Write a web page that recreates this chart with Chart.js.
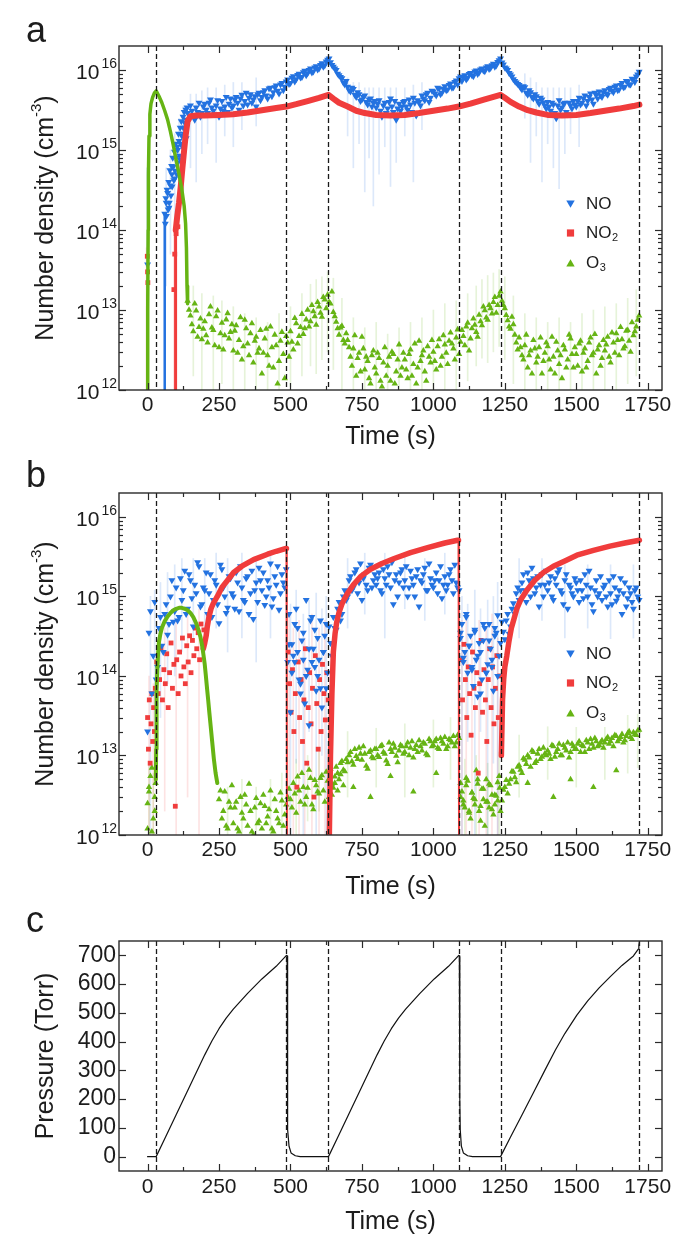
<!DOCTYPE html>
<html>
<head>
<meta charset="utf-8">
<title>NO / NO2 / O3 number density and pressure vs time</title>
<script src="https://cdn.jsdelivr.net/npm/chart.js@4.4.1/dist/chart.umd.min.js"></script>
<style>
  html, body { margin: 0; padding: 0; background: #fff; }
  #figure { position: relative; width: 688px; height: 1249px; overflow: hidden; }
  #figure canvas { position: absolute; left: 0; }
</style>
</head>
<body>
<div id="figure">
  <canvas id="chart-a" width="688" height="450" style="top:0"></canvas>
  <canvas id="chart-b" width="688" height="450" style="top:450px"></canvas>
  <canvas id="chart-c" width="688" height="349" style="top:900px"></canvas>
</div>
<script>
// ============================================
// Number density (NO, NO2, O3) and chamber pressure vs time
// ============================================

const FONT = '"Liberation Sans", Arial, Helvetica, sans-serif';
const INK = '#1c1c1c';
const BLUE = '#2372e0';
const RED = '#f03c3c';
const GREEN = '#66b414';

// ---- axes ----
const xTickVals = [0, 250, 500, 750, 1000, 1250, 1500, 1750];
const xMinorVals = [125, 375, 625, 875, 1125, 1375, 1625];
const logTickVals = [1e12, 1e13, 1e14, 1e15, 1e16];
const pressureTickVals = [0, 100, 200, 300, 400, 500, 600, 700];
const stepLines = [30, 486, 633, 1089, 1235, 1721];
const legendNames = ['NO', 'NO2', 'O3'];

// 10 s grids shared by the scattered series
const timeGrid = [
  0, 10, 20, 30, 40, 50, 60, 70, 80, 90,
  100, 110, 120, 130, 140, 150, 160, 170, 180, 190,
  200, 210, 220, 230, 240, 250, 260, 270, 280, 290,
  300, 310, 320, 330, 340, 350, 360, 370, 380, 390,
  400, 410, 420, 430, 440, 450, 460, 470, 480, 490,
  500, 510, 520, 530, 540, 550, 560, 570, 580, 590,
  600, 610, 620, 630, 640, 650, 660, 670, 680, 690,
  700, 710, 720, 730, 740, 750, 760, 770, 780, 790,
  800, 810, 820, 830, 840, 850, 860, 870, 880, 890,
  900, 910, 920, 930, 940, 950, 960, 970, 980, 990,
  1000, 1010, 1020, 1030, 1040, 1050, 1060, 1070, 1080, 1090,
  1100, 1110, 1120, 1130, 1140, 1150, 1160, 1170, 1180, 1190,
  1200, 1210, 1220, 1230, 1240, 1250, 1260, 1270, 1280, 1290,
  1300, 1310, 1320, 1330, 1340, 1350, 1360, 1370, 1380, 1390,
  1400, 1410, 1420, 1430, 1440, 1450, 1460, 1470, 1480, 1490,
  1500, 1510, 1520, 1530, 1540, 1550, 1560, 1570, 1580, 1590,
  1600, 1610, 1620, 1630, 1640, 1650, 1660, 1670, 1680, 1690,
  1700, 1710, 1720
];
const midGrid = [
  5, 15, 25, 35, 45, 55, 65, 75, 85, 95,
  105, 115, 125, 135, 145, 155, 165, 175, 185, 195,
  205, 215, 225, 235, 245, 255, 265, 275, 285, 295,
  305, 315, 325, 335, 345, 355, 365, 375, 385, 395,
  405, 415, 425, 435, 445, 455, 465, 475, 485, 495,
  505, 515, 525, 535, 545, 555, 565, 575, 585, 595,
  605, 615, 625, 635, 645, 655, 665, 675, 685, 695,
  705, 715, 725, 735, 745, 755, 765, 775, 785, 795,
  805, 815, 825, 835, 845, 855, 865, 875, 885, 895,
  905, 915, 925, 935, 945, 955, 965, 975, 985, 995,
  1005, 1015, 1025, 1035, 1045, 1055, 1065, 1075, 1085, 1095,
  1105, 1115, 1125, 1135, 1145, 1155, 1165, 1175, 1185, 1195,
  1205, 1215, 1225, 1235, 1245, 1255, 1265, 1275, 1285, 1295,
  1305, 1315, 1325, 1335, 1345, 1355, 1365, 1375, 1385, 1395,
  1405, 1415, 1425, 1435, 1445, 1455, 1465, 1475, 1485, 1495,
  1505, 1515, 1525, 1535, 1545, 1555, 1565, 1575, 1585, 1595,
  1605, 1615, 1625, 1635, 1645, 1655, 1665, 1675, 1685, 1695,
  1705, 1715
];

// ---- panel a ----
const noA = [
  3.7e13, null, null, null, null, null, 1.6e14, 2.9e14, 3.6e14, 6.2e14,
  8.0e14, 1.3e15, 1.5e15, 2.2e15, 2.9e15, 3.6e15, 2.7e15, 3.4e15, 3.9e15, 2.9e15,
  3.8e15, 2.9e15, 4.3e15, 3.1e15, 3.6e15, 2.6e15, 4.1e15, 3.5e15, 3.0e15, 4.4e15,
  3.6e15, 4.6e15, 3.2e15, 4.9e15, 4.1e15, 3.7e15, 5.0e15, 4.3e15, 3.5e15, 5.2e15,
  4.6e15, 5.6e15, 4.4e15, 6.0e15, 5.3e15, 6.4e15, 5.1e15, 6.9e15, 6.2e15, 7.6e15,
  6.9e15, 8.4e15, 7.7e15, 9.0e15, 8.2e15, 9.8e15, 9.1e15, 1.05e16, 9.6e15, 1.12e16,
  1.05e16, 1.22e16, 1.15e16, 1.35e16, 1.25e16, 1.1e16, 1.0e16, 8.6e15, 7.9e15, 6.6e15,
  6.2e15, 5.4e15, 5.8e15, 4.6e15, 5.0e15, 4.3e15, 4.8e15, 3.7e15, 4.4e15, 3.9e15,
  3.4e15, 4.2e15, 2.6e15, 3.9e15, 3.3e15, 4.4e15, 3.0e15, 2.4e15, 3.8e15, 3.5e15,
  4.1e15, 3.2e15, 3.7e15, 4.5e15, 2.7e15, 4.0e15, 4.8e15, 4.2e15, 5.2e15, 4.5e15,
  5.4e15, 4.8e15, 5.9e15, 5.2e15, 6.3e15, 5.7e15, 6.8e15, 6.1e15, 7.4e15, 7.9e15,
  7.3e15, 8.6e15, 8.0e15, 9.2e15, 8.4e15, 9.9e15, 9.3e15, 1.05e16, 9.7e15, 1.12e16,
  1.06e16, 1.2e16, 1.14e16, 1.33e16, 1.24e16, 1.08e16, 1.0e16, 8.8e15, 7.7e15, 7.0e15,
  6.5e15, 5.7e15, 6.1e15, 4.9e15, 5.3e15, 4.4e15, 4.7e15, 3.8e15, 4.3e15, 3.6e15,
  4.0e15, 3.1e15, 3.7e15, 2.5e15, 4.2e15, 3.4e15, 3.9e15, 2.8e15, 3.6e15, 4.1e15,
  3.5e15, 4.5e15, 3.9e15, 4.8e15, 4.1e15, 5.1e15, 3.8e15, 4.9e15, 5.4e15, 4.6e15,
  5.6e15, 4.9e15, 6.0e15, 5.3e15, 6.4e15, 5.7e15, 6.9e15, 6.2e15, 7.2e15, 6.6e15,
  7.6e15, 8.3e15, 9.5e15
];
const noAMid = [
  null, null, null, null, null, null, 2.2e14, 1.9e14, 5.0e14, 4.4e14,
  1.0e15, 7.5e14, 1.9e15, 1.4e15, 2.4e15, 3.1e15, 2.4e15, 3.0e15, 2.6e15, 3.5e15,
  3.2e15, 3.9e15, 3.4e15, 2.8e15, 4.2e15, 3.3e15, 3.1e15, 4.6e15, 3.8e15, 3.4e15,
  4.3e15, 3.9e15, 4.4e15, 3.6e15, 5.2e15, 4.5e15, 3.9e15, 4.7e15, 5.0e15, 4.2e15,
  5.3e15, 4.8e15, 5.9e15, 4.7e15, 6.1e15, 5.5e15, 6.6e15, 5.6e15, 7.2e15, 6.7e15,
  8.0e15, 7.2e15, 8.7e15, 8.1e15, 9.4e15, 8.6e15, 1.0e16, 9.3e15, 1.08e16, 1.02e16,
  1.16e16, 1.1e16, 1.28e16, 1.4e16, 1.16e16, 1.05e16, 9.0e15, 8.2e15, 7.0e15, 7.3e15,
  5.6e15, 6.0e15, 4.9e15, 5.3e15, 4.1e15, 4.6e15, 4.0e15, 4.3e15, 3.5e15, 4.1e15,
  3.8e15, 3.1e15, 3.6e15, 2.9e15, 4.0e15, 3.5e15, 4.1e15, 3.3e15, 3.1e15, 4.0e15,
  3.5e15, 4.3e15, 3.0e15, 3.9e15, 4.2e15, 3.6e15, 4.4e15, 5.0e15, 4.0e15, 5.5e15,
  5.1e15, 6.0e15, 5.0e15, 5.8e15, 5.6e15, 6.5e15, 6.0e15, 7.1e15, 6.6e15, 8.3e15,
  8.0e15, 7.6e15, 8.9e15, 8.6e15, 9.6e15, 8.9e15, 1.02e16, 9.9e15, 1.08e16, 1.03e16,
  1.15e16, 1.1e16, 1.26e16, 1.4e16, 1.17e16, 1.05e16, 9.2e15, 8.3e15, 7.3e15, 6.7e15,
  6.0e15, 6.3e15, 5.2e15, 5.6e15, 4.6e15, 5.0e15, 4.1e15, 4.5e15, 3.9e15, 3.3e15,
  3.5e15, 3.9e15, 2.9e15, 3.6e15, 3.2e15, 3.8e15, 3.0e15, 3.9e15, 3.3e15, 3.7e15,
  4.1e15, 3.7e15, 4.4e15, 3.6e15, 4.6e15, 4.3e15, 5.2e15, 4.4e15, 4.8e15, 5.3e15,
  5.1e15, 5.8e15, 5.5e15, 6.2e15, 5.6e15, 6.5e15, 6.1e15, 7.3e15, 6.6e15, 7.8e15,
  7.1e15, 8.8e15
];
const noAExtraT = [62, 64, 66, 68, 72, 74, 76, 78, 82, 84, 86, 88, 92, 94, 96, 98,
  102, 104, 106, 108, 112, 114, 116, 118, 122, 124, 126, 128, 132, 134, 136, 138];
const noAExtraV = [1.2e14, 2.5e14, 1.5e14, 3.2e14, 1.8e14, 4.0e14, 2.2e14, 5.6e14,
  2.7e14, 6.3e14, 3.5e14, 8.0e14, 4.2e14, 9.5e14, 5.5e14, 1.2e15,
  5.0e14, 1.1e15, 7.0e14, 1.6e15, 8.5e14, 1.9e15, 1.2e15, 2.3e15,
  1.1e15, 2.6e15, 1.6e15, 3.0e15, 1.9e15, 3.2e15, 2.4e15, 3.4e15];
const noARiseT = [58.5, 59.5, 60.5];
const noARiseV = [1e11, 2e13, 1.5e14];

const no2ARiseT = [96, 97.5, 98.5];
const no2ARiseV = [1e11, 1e13, 1.0e14];
const no2ALineT = [98.5, 104, 110, 116, 122, 128, 134, 140,
  150, 170, 200, 250, 300, 350, 400, 450, 486, 520,
  560, 600, 633, 650, 670, 700, 730, 760, 800, 850,
  900, 950, 1000, 1050, 1089, 1130, 1180, 1235, 1250, 1270,
  1300, 1330, 1360, 1400, 1450, 1500, 1550, 1600, 1650, 1700, 1721];
const no2ALineV = [1.0e14, 1.5e14, 2.2e14, 3.5e14, 6e14, 1.0e15, 1.6e15, 2.3e15,
  2.65e15, 2.7e15, 2.7e15, 2.75e15, 2.8e15, 2.95e15, 3.15e15, 3.35e15, 3.5e15, 3.75e15,
  4.1e15, 4.5e15, 4.9e15, 4.4e15, 3.9e15, 3.5e15, 3.1e15, 2.9e15, 2.75e15, 2.7e15,
  2.75e15, 2.9e15, 3.1e15, 3.3e15, 3.5e15, 3.8e15, 4.3e15, 4.9e15, 4.5e15, 4.0e15,
  3.5e15, 3.15e15, 2.95e15, 2.75e15, 2.7e15, 2.75e15, 2.9e15, 3.1e15, 3.3e15, 3.55e15, 3.7e15];
const no2AExtraT = [-1, 0, 1, 92, 95, 100, 106];
const no2AExtraV = [4.7e13, 3.0e13, 2.2e13, 1.8e13, 5e13, 9e13, 1.1e14];

const o3ALineT = [-1, 0, 1, 2, 3, 5, 8, 12, 18, 24, 30, 40, 50, 60, 70, 80, 90,
  100, 110, 120, 128, 133, 136, 138, 140];
const o3ALineV = [1e11, 1e12, 1e13, 1e14, 5e14, 1.5e15, 2.8e15, 3.8e15, 4.6e15, 5.2e15,
  5.5e15, 4.7e15, 3.9e15, 3.1e15, 2.4e15, 1.7e15, 1.15e15, 7.5e14, 5e14, 3.2e14,
  2e14, 1.2e14, 6e13, 2e13, 1.2e13];
const o3A = [
  null, null, null, null, null, null, null, null, null, null,
  null, null, null, null, 1.3e13, 8.5e12, 5.4e12, 9.8e12, 6.1e12, 4.3e12,
  7.2e12, 3.9e12, 1.1e13, 5.6e12, 8.3e12, 3.4e12, 6.9e12, 4.8e12, 9.1e12, 5.3e12,
  3.1e12, 6.4e12, 4.2e12, 2.4e12, 7.5e12, 3.8e12, 5.1e12, 2.2e12, 4.6e12, 3.3e12,
  1.6e12, 4.4e12, 2.7e12, 6.2e12, 1.9e12, 3.6e12, 2.3e12, 5.3e12, 1.4e12, 3.9e12,
  5.4e12, 3.2e12, 6.8e12, 4.7e12, 8.9e12, 5.9e12, 1.0e13, 7.2e12, 9.6e12, 6.5e12,
  1.1e13, 8.2e12, 1.35e13, 1.55e13, 1.2e13, 9.4e12, 7.1e12, 4.9e12, 6.3e12, 3.8e12,
  4.2e12, 2.6e12, 3.3e12, 1.5e12, 2.9e12, 4.6e12, 1.8e12, 2.3e12, 1.2e12, 3.1e12,
  1.6e12, 2.5e12, 1.1e12, 3.4e12, 2.0e12, 1.3e12, 2.8e12, 1.7e12, 3.7e12, 1.9e12,
  2.4e12, 1.4e12, 3.2e12, 2.1e12, 1.2e12, 4.1e12, 2.7e12, 1.7e12, 3.5e12, 2.2e12,
  3.0e12, 1.8e12, 4.3e12, 2.6e12, 3.7e12, 2.1e12, 5.2e12, 3.3e12, 4.5e12, 2.8e12,
  5.6e12, 3.6e12, 6.9e12, 4.4e12, 7.8e12, 5.3e12, 8.7e12, 6.4e12, 9.9e12, 7.5e12,
  1.05e13, 1.25e13, 9.2e12, 1.5e13, 1.3e13, 1.05e13, 7.4e12, 5.8e12, 6.6e12, 3.9e12,
  4.5e12, 2.7e12, 3.6e12, 1.9e12, 3.1e12, 4.2e12, 2.2e12, 3.4e12, 1.6e12, 2.9e12,
  3.5e12, 1.8e12, 2.6e12, 4.0e12, 2.1e12, 1.4e12, 3.2e12, 2.4e12, 4.4e12, 1.9e12,
  2.8e12, 3.8e12, 1.7e12, 3.3e12, 2.3e12, 4.5e12, 2.9e12, 1.6e12, 3.6e12, 2.5e12,
  3.1e12, 4.6e12, 2.2e12, 3.9e12, 5.1e12, 2.7e12, 4.3e12, 3.5e12, 5.6e12, 3.0e12,
  4.8e12, 6.2e12, 8.5e12
];
const o3AMid = [
  null, null, null, null, null, null, null, null, null, null,
  null, null, null, null, 1.0e13, 6.6e12, 1.2e13, 4.6e12, 7.8e12, 5.8e12,
  4.8e12, 8.8e12, 6.0e12, 3.6e12, 9.8e12, 5.1e12, 3.2e12, 7.6e12, 4.4e12, 6.6e12,
  5.5e12, 2.9e12, 8.1e12, 3.5e12, 5.9e12, 2.7e12, 6.8e12, 4.1e12, 2.9e12, 5.6e12,
  2.9e12, 5.8e12, 2.0e12, 3.4e12, 4.9e12, 1.2e12, 4.1e12, 2.8e12, 4.7e12, 2.6e12,
  4.0e12, 7.9e12, 3.8e12, 6.1e12, 5.0e12, 7.6e12, 6.2e12, 1.15e13, 8.3e12, 1.25e13,
  9.2e12, 1.45e13, 1.05e13, 1.25e13, 1.7e13, 8.3e12, 5.9e12, 6.0e12, 4.2e12, 5.1e12,
  3.4e12, 2.0e12, 4.8e12, 2.5e12, 1.7e12, 3.3e12, 2.6e12, 1.4e12, 2.7e12, 1.9e12,
  2.9e12, 1.3e12, 2.2e12, 1.5e12, 2.6e12, 3.0e12, 1.2e12, 2.4e12, 1.5e12, 2.9e12,
  1.8e12, 2.8e12, 1.5e12, 3.8e12, 1.9e12, 2.3e12, 3.1e12, 1.3e12, 2.6e12, 4.2e12,
  2.3e12, 3.5e12, 2.0e12, 4.8e12, 2.9e12, 4.1e12, 3.8e12, 2.4e12, 5.7e12, 4.0e12,
  4.7e12, 6.2e12, 3.1e12, 5.9e12, 6.5e12, 4.6e12, 7.2e12, 1.1e13, 8.0e12, 1.15e13,
  9.0e12, 1.45e13, 1.15e13, 1.7e13, 1.15e13, 8.6e12, 6.2e12, 8.2e12, 4.9e12, 3.2e12,
  3.4e12, 2.4e12, 4.9e12, 2.7e12, 1.6e12, 3.3e12, 2.6e12, 4.5e12, 2.3e12, 3.9e12,
  2.4e12, 4.6e12, 1.6e12, 3.1e12, 2.7e12, 3.6e12, 1.9e12, 4.9e12, 2.8e12, 3.4e12,
  2.0e12, 4.1e12, 2.9e12, 1.9e12, 3.9e12, 2.7e12, 5.0e12, 3.2e12, 2.0e12, 4.2e12,
  3.7e12, 2.6e12, 5.2e12, 2.9e12, 4.2e12, 6.1e12, 3.3e12, 5.5e12, 4.1e12, 7.0e12,
  5.4e12, 7.5e12
];

// error bars, panel a
const errNoAT = [-2, 65, 80, 95, 110, 125, 150, 170, 190, 210, 240, 270, 300, 330, 380,
  700, 720, 740, 760, 775, 790, 810, 830, 850, 870, 900, 930, 960,
  1320, 1340, 1360, 1380, 1400, 1420, 1440, 1460, 1480, 1510];
const errNoALo = [5e11, 2e13, 5e13, 8e13, 1.5e14, 3e14, 6e14, 4e14, 9e14, 1.2e15, 7e14, 1.5e15, 1.1e15, 1.8e15, 2e15,
  1.5e15, 6e14, 1.2e15, 3e14, 8e14, 2e14, 5e14, 1.1e15, 3.5e14, 7e14, 1.5e15, 4e14, 1.8e15,
  2.5e15, 7e14, 1.5e15, 4e14, 1.2e15, 6e14, 2e14, 9e14, 1.6e15, 1.1e15];
const errNoAHi = [6e14, 6e14, 1e15, 1.6e15, 2.5e15, 3.5e15, 5e15, 5e15, 5.5e15, 6e15, 6e15, 6.5e15, 7e15, 7e15, 8e15,
  8e15, 7e15, 7e15, 6e15, 6e15, 6e15, 6e15, 6e15, 6e15, 6e15, 6e15, 6.5e15, 7e15,
  9e15, 8e15, 7e15, 6e15, 6e15, 6e15, 6e15, 6e15, 6e15, 6.5e15];
const errNo2AT = [-4, 0, 92, 96];
const errNo2ALo = [5e11, 5e11, 5e11, 5e11];
const errNo2AHi = [6e13, 3e13, 1e14, 8e13];
const errO3AT = [160, 190, 230, 260, 300, 340, 380, 420, 460, 500,
  540, 570, 590, 610, 630, 650, 680, 720, 760, 800,
  840, 880, 920, 960, 1000, 1040, 1080, 1120, 1150, 1170,
  1190, 1210, 1230, 1250, 1280, 1320, 1360, 1400, 1440, 1480,
  1520, 1560, 1600, 1640, 1680, 1710];
const errO3ALo = [1.5e12, 8e11, 5e11, 1.2e12, 5e11, 9e11, 5e11, 5e11, 7e11, 1.1e12,
  1.5e12, 2e12, 1.6e12, 2.4e12, 3e12, 1.8e12, 1e12, 5e11, 5e11, 6e11,
  5e11, 5e11, 7e11, 5e11, 8e11, 5e11, 1e12, 1.3e12, 2e12, 2.5e12,
  2.2e12, 3e12, 3.5e12, 2.4e12, 1.2e12, 5e11, 7e11, 5e11, 6e11, 5e11,
  8e11, 5e11, 9e11, 6e11, 1.2e12, 1.5e12];
const errO3AHi = [2e13, 1.6e13, 1.5e13, 1.3e13, 1.1e13, 9e12, 8e12, 7e12, 9e12, 1.1e13,
  1.6e13, 2.1e13, 2.4e13, 2.6e13, 3.0e13, 2.5e13, 1.4e13, 8e12, 6e12, 7e12,
  5e12, 6e12, 7e12, 8e12, 1e13, 1.2e13, 1.3e13, 1.6e13, 2.0e13, 2.4e13,
  2.7e13, 2.9e13, 3.2e13, 2.6e13, 1.5e13, 9e12, 8e12, 7e12, 8e12, 7e12,
  9e12, 1e13, 1.1e13, 1.2e13, 1.4e13, 1.8e13];

// ---- panel b ----
const noB = [
  2.0e13, 6.5e14, 1.8e14, 9.0e13, 4.0e14, 2.4e14, 6.0e14, 3.3e14, 1.0e15, 4.8e14,
  1.3e15, 5.5e14, 9.0e14, 2.1e15, 7.0e14, 1.6e15, 4.2e14, 1.1e15, 2.4e15, 8.0e14,
  1.2e15, 6.0e14, 1.9e15, 9.0e14, 1.4e15, 4.6e14, 2.2e15, 1.0e15, 7.2e14, 1.7e15,
  1.0e15, 2.0e15, 6.5e14, 1.3e15, 8.5e14, 1.8e15, 1.1e15, 5.2e14, 1.5e15, 2.3e15,
  1.2e15, 7.8e14, 1.6e15, 2.6e15, 9.5e14, 1.4e15, 6.8e14, 1.9e15, 1.3e15, 1.5e14,
  3.5e13, 1.8e14, 7.0e14, 9.0e13, 2.8e14, 4.5e13, 1.2e14, 5.0e14, 2.2e14, 6.5e13,
  1.6e14, 4.0e13, 3.2e14, 1.1e14, 2.6e14, 5.5e14, 3.8e14, 8.5e14, 6.0e14, 1.2e15,
  1.0e15, 1.8e15, 1.3e15, 2.2e15, 1.5e15, 9.0e14, 1.9e15, 1.2e15, 2.5e15, 1.6e15,
  1.4e15, 2.0e15, 1.1e15, 1.7e15, 2.4e15, 1.3e15, 8.0e14, 1.9e15, 1.5e15, 2.2e15,
  1.6e15, 1.0e15, 2.1e15, 1.4e15, 1.8e15, 7.5e14, 1.5e15, 2.3e15, 1.2e15, 1.7e15,
  1.3e15, 2.0e15, 1.6e15, 9.5e14, 1.8e15, 1.4e15, 2.2e15, 1.1e15, 1.5e15, 1.2e15,
  4.5e14, 2.0e14, 1.1e14, 3.2e14, 7.5e13, 1.6e14, 2.6e14, 9.0e13, 4.0e14, 1.4e14,
  2.2e14, 6.5e13, 3.5e14, 1.8e14, 4.8e14, 2.9e14, 6.0e14, 4.2e14, 8.2e14, 1.1e15,
  9.0e14, 1.5e15, 1.2e15, 2.0e15, 1.0e15, 1.7e15, 1.3e15, 7.5e14, 1.9e15, 1.4e15,
  1.2e15, 1.8e15, 9.0e14, 1.4e15, 2.2e15, 1.1e15, 1.6e15, 7.0e14, 1.3e15, 1.0e15,
  1.5e15, 8.5e14, 1.2e15, 1.9e15, 1.0e15, 1.3e15, 6.5e14, 1.6e15, 1.1e15, 9.0e14,
  1.4e15, 7.5e14, 1.1e15, 1.8e15, 8.8e14, 1.2e15, 6.0e14, 1.5e15, 9.5e14, 1.1e15,
  7.0e14, 1.3e15, 9.0e14
];
const noBMid = [
  3.5e14, 6.0e13, 8.5e14, 1.3e14, 5.5e14, 2.0e14, 8.0e14, 4.5e14, 1.6e15, 6.5e14,
  5.0e14, 1.7e15, 1.2e15, 6.0e14, 1.9e15, 9.5e14, 1.4e15, 2.7e15, 7.5e14, 1.3e15,
  2.0e15, 1.1e15, 5.5e14, 1.6e15, 8.0e14, 2.5e15, 1.3e15, 6.2e14, 1.8e15, 1.1e15,
  7.0e14, 1.5e15, 2.4e15, 9.0e14, 1.7e15, 6.0e14, 2.1e15, 1.2e15, 8.5e14, 1.6e15,
  2.0e15, 1.0e15, 1.3e15, 7.5e14, 1.8e15, 2.4e15, 1.1e15, 1.5e15, 2.2e15, 2.5e14,
  1.1e14, 4.5e14, 2.0e14, 6.0e13, 1.6e14, 9.0e14, 2.4e13, 1.5e14, 3.8e14, 1.0e14,
  5.0e14, 2.0e14, 7.0e13, 4.2e14, 1.8e14, 4.0e14, 7.0e14, 5.0e14, 1.0e15, 9.0e14,
  1.6e15, 1.2e15, 2.0e15, 1.1e15, 2.6e15, 1.7e15, 1.4e15, 2.3e15, 1.3e15, 1.9e15,
  1.7e15, 1.2e15, 2.2e15, 1.4e15, 1.9e15, 2.7e15, 1.6e15, 1.0e15, 2.0e15, 1.3e15,
  2.4e15, 1.3e15, 1.7e15, 1.0e15, 2.2e15, 1.6e15, 1.9e15, 1.2e15, 2.6e15, 1.4e15,
  1.6e15, 1.1e15, 2.4e15, 1.4e15, 1.2e15, 1.9e15, 1.6e15, 2.5e15, 1.3e15, 3.5e14,
  1.7e14, 6.0e14, 2.4e14, 1.3e14, 3.6e14, 5.5e13, 2.0e14, 4.5e14, 1.1e14, 2.8e14,
  1.3e14, 4.0e14, 1.0e14, 2.6e14, 3.6e14, 5.0e14, 3.4e14, 7.0e14, 6.0e14, 1.3e15,
  1.2e15, 1.9e15, 8.5e14, 1.6e15, 2.3e15, 1.1e15, 1.8e15, 1.4e15, 1.0e15, 2.1e15,
  1.5e15, 1.0e15, 1.7e15, 2.0e15, 1.2e15, 8.0e14, 1.9e15, 1.4e15, 1.1e15, 1.7e15,
  1.2e15, 1.6e15, 9.5e14, 1.4e15, 2.1e15, 8.0e14, 1.2e15, 1.0e15, 1.8e15, 1.3e15,
  1.0e15, 1.6e15, 8.0e14, 1.3e15, 1.0e15, 1.7e15, 1.1e15, 7.5e14, 1.3e15, 8.5e14,
  1.2e15, 1.0e15
];
const noBExtraT = [495, 505, 515, 525, 535, 545, 555, 565, 575, 585, 595, 605, 615, 625,
  1095, 1105, 1115, 1125, 1135, 1145, 1155, 1165, 1175, 1185, 1195, 1205, 1215, 1225];
const noBExtraV = [6e14, 2.5e14, 1.5e14, 4e14, 8e13, 3.5e14, 1.0e14, 2.2e14, 5.5e14, 1.3e14, 3.0e14, 7e13, 2.0e14, 4.5e14,
  3.0e14, 1.5e14, 5.5e14, 2.4e14, 1.2e14, 3.8e14, 1.8e14, 6e13, 2.8e14, 1.1e14, 4.5e14, 1.6e14, 3.2e14, 5.8e14];

const no2BLineT = [195, 200, 205, 209, 215, 222, 230, 244, 260, 280,
  301, 330, 371, 420, 450, 482, 486, 487,
  636, 640, 645, 650, 656, 662, 670, 680, 688, 700,
  720, 747, 780, 820, 863, 920, 980, 1040, 1085, 1088, 1089,
  1238, 1242, 1246, 1250, 1257, 1265, 1273,
  1282, 1292, 1305, 1327, 1355, 1385, 1420, 1460, 1502, 1560,
  1618, 1670, 1721];
const no2BLineV = [2.2e14, 2.6e14, 3.2e14, 4.2e14, 5.6e14, 7e14, 8.2e14, 1.0e15, 1.3e15, 1.6e15,
  2.0e15, 2.4e15, 2.9e15, 3.4e15, 3.7e15, 4.0e15, 4.0e15, null,
  1e12, 1e13, 6e13, 2e14, 3.4e14, 4.8e14, 6.3e14, 8e14, 9.2e14, 1.1e15,
  1.4e15, 1.8e15, 2.2e15, 2.6e15, 3.0e15, 3.55e15, 4.1e15, 4.7e15, 5.1e15, 5.1e15, null,
  1e13, 5e13, 9e13, 1.3e14, 1.8e14, 2.8e14, 4e14,
  5.2e14, 7e14, 9e14, 1.2e15, 1.6e15, 2.0e15, 2.4e15, 2.8e15, 3.3e15, 3.8e15,
  4.3e15, 4.7e15, 5.1e15];
const no2BDropT = [486, 487, 488, 489, 1088, 1089, 1090, 1091];
const no2BDropV = [4.0e15, 1e14, 1e11, null, 5.1e15, 1e14, 1e11, null];
const no2BCloudT = [0, 3, 6, 9, 12, 15, 18, 21, 24, 27,
  32, 37, 42, 47, 52, 57, 62, 67, 72, 77, 82, 87, 92, 97, 102, 107, 112, 117, 122, 127,
  132, 137, 142, 147, 152, 157, 162, 167, 172, 177, 182, 187, 192, 197,
  492, 497, 502, 507, 512, 517, 522, 527, 532, 537, 542, 547, 552, 557, 562,
  567, 572, 577, 582, 587, 592, 597, 602, 607, 612, 617, 622, 627, 632,
  1097, 1102, 1107, 1112, 1117, 1122, 1127, 1132, 1137, 1142, 1147, 1152, 1157, 1162,
  1167, 1172, 1177, 1182, 1187, 1192, 1197, 1202, 1207, 1212, 1217, 1222, 1227, 1232];
const no2BCloudV = [3e13, 1.2e13, 5e13, 8e12, 2.5e13, 6e13, 1.5e13, 4e13, 2e13, 7e13,
  1.5e14, 6e13, 9e13, 2.2e14, 5e13, 1.2e14, 8e13, 1.9e14, 4e13, 1.1e14, 2.6e14, 7e13, 1.4e14, 2.3e12, 1.6e14, 6e13, 2.0e14, 1.0e14, 3.0e14, 1.3e14,
  8e13, 2.4e14, 1.5e14, 3.2e14, 1.1e14, 2.8e14, 1.8e14, 4.0e14, 2.2e14, 3.5e14, 1.6e14, 4.5e14, 2.7e14, 3.8e14,
  2e14, 8e13, 3.5e13, 1.2e14, 2e13, 6e13, 4e12, 1.5e14, 3e13, 9e13, 1.5e13, 5e13, 2.2e14, 8e12, 4e13,
  1.1e14, 2.5e13, 7e13, 3e12, 1.8e14, 4.5e13, 1.2e13, 9e13, 2e13, 1.4e14, 6e13, 2.8e13, 1.1e14, 5e13,
  1.6e14, 5e13, 2.5e14, 9e13, 3e13, 1.3e14, 6e13, 1.8e13, 2e14, 7e13, 4e13, 1.1e14, 6e12, 8e13,
  2.8e14, 3.5e13, 1.2e14, 5e13, 1.5e13, 9e13, 2.2e14, 4e13, 1.3e14, 2.5e13, 7e13, 1.8e14, 3e13, 1.0e14];

const o3BLineT = [29, 30, 31, 32, 34, 37, 40, 45, 50, 60,
  70, 80, 90, 100, 110, 120, 130, 140, 150, 160,
  170, 178, 185, 190, 195, 200, 204, 208, 212, 216,
  220, 226, 232, 238, 244];
const o3BLineV = [5e12, 1.2e13, 3e13, 6.5e13, 1.2e14, 2.0e14, 2.7e14, 3.4e14, 4.0e14, 4.9e14,
  5.6e14, 6.2e14, 6.7e14, 7.0e14, 7.2e14, 7.2e14, 7.0e14, 6.7e14, 6.2e14, 5.5e14,
  4.6e14, 3.8e14, 3.1e14, 2.5e14, 1.9e14, 1.4e14, 1.0e14, 7e13, 5e13, 3.5e13,
  2.5e13, 1.5e13, 9e12, 6e12, 4.5e12];
const o3B = [
  2.5e12, 5.5e12, 1.6e12, null, null, null, null, null, null, null,
  null, null, null, null, null, null, null, null, null, null,
  null, null, null, null, null, 2.8e12, 1.6e12, 3.5e12, 1.2e12, 2.2e12,
  1.4e12, 2.6e12, 1.1e12, 1.9e12, 3.2e12, 1.3e12, 2.0e12, 1.0e12, 2.9e12, 1.5e12,
  1.2e12, 2.3e12, 1.7e12, 3.6e12, 1.1e12, 2.0e12, 1.4e12, 2.7e12, 1.8e12, 3.0e12,
  2.8e12, 4.5e12, 1.9e12, 3.6e12, 6.0e12, 2.4e12, 3.9e12, 5.2e12, 2.1e12, 4.2e12,
  3.3e12, 5.6e12, 2.6e12, 4.8e12, 6.8e12, 3.9e12, 7.2e12, 5.0e12, 8.5e12, 6.3e12,
  8.2e12, 1.1e13, 7.6e12, 9.8e12, 1.25e13, 8.8e12, 1.05e13, 6.8e12, 1.15e13, 9.2e12,
  1.2e13, 9.5e12, 1.35e13, 1.05e13, 7.8e12, 1.2e13, 1.4e13, 9.9e12, 1.15e13, 1.3e13,
  1.1e13, 1.45e13, 1.25e13, 9.4e12, 1.35e13, 1.55e13, 1.15e13, 1.4e13, 1.0e13, 1.5e13,
  1.35e13, 1.6e13, 1.2e13, 1.5e13, 1.7e13, 1.3e13, 1.55e13, 1.75e13, 1.45e13, 1.65e13,
  3.5e12, 2.2e12, 4.8e12, 1.6e12, 2.9e12, 6.5e12, 2.0e12, 3.8e12, 1.3e12, 2.6e12,
  4.2e12, 1.8e12, 3.1e12, 5.5e12, 2.7e12, 4.0e12, 3.3e12, 5.0e12, 6.2e12, 4.6e12,
  7.5e12, 6.0e12, 8.8e12, 1.0e13, 7.2e12, 1.1e13, 8.5e12, 1.2e13, 9.6e12, 1.05e13,
  1.15e13, 9.0e12, 1.3e13, 1.1e13, 1.4e13, 1.0e13, 1.25e13, 1.45e13, 1.1e13, 1.3e13,
  1.2e13, 1.5e13, 1.35e13, 1.1e13, 1.45e13, 1.6e13, 1.25e13, 1.5e13, 1.35e13, 1.55e13,
  1.45e13, 1.7e13, 1.5e13, 1.3e13, 1.75e13, 1.6e13, 1.85e13, 1.55e13, 1.9e13, 1.7e13,
  1.95e13, 1.8e13, 2.1e13
];
const o3BMid = [
  4.0e12, 1.1e12, 3.0e12, null, null, null, null, null, null, null,
  null, null, null, null, null, null, null, null, null, null,
  null, null, null, null, null, 3.6e12, 2.0e12, 1.3e12, 2.6e12, 4.2e12,
  2.2e12, 1.2e12, 3.0e12, 1.6e12, 2.4e12, 4.4e12, 1.1e12, 2.2e12, 1.4e12, 2.5e12,
  3.2e12, 1.4e12, 2.1e12, 1.2e12, 2.8e12, 1.6e12, 3.4e12, 1.3e12, 2.4e12, 3.8e12,
  2.2e12, 3.3e12, 5.4e12, 2.6e12, 4.0e12, 3.0e12, 6.6e12, 2.4e12, 4.9e12, 3.5e12,
  5.2e12, 3.6e12, 6.2e12, 3.0e12, 4.4e12, 5.4e12, 6.0e12, 8.0e12, 6.6e12, 9.0e12,
  1.0e13, 8.4e12, 1.2e13, 9.0e12, 1.05e13, 1.3e13, 7.4e12, 1.1e13, 9.6e12, 1.2e13,
  1.0e13, 1.3e13, 1.1e13, 8.6e12, 1.45e13, 1.1e13, 1.25e13, 8.2e12, 1.35e13, 1.05e13,
  1.3e13, 1.0e13, 1.5e13, 1.2e13, 1.1e13, 1.3e13, 1.45e13, 1.05e13, 1.6e13, 1.3e13,
  1.5e13, 1.25e13, 1.65e13, 1.4e13, 1.2e13, 1.6e13, 1.45e13, 1.3e13, 1.8e13, 4.5e12,
  2.7e12, 5.2e12, 1.9e12, 3.4e12, 2.4e12, 4.4e12, 1.5e12, 2.8e12, 5.0e12, 2.2e12,
  3.2e12, 2.4e12, 4.6e12, 2.0e12, 3.7e12, 4.9e12, 4.4e12, 6.3e12, 5.3e12, 7.2e12,
  6.6e12, 9.2e12, 7.8e12, 9.4e12, 1.15e13, 8.0e12, 1.05e13, 9.0e12, 1.25e13, 1.0e13,
  1.05e13, 1.35e13, 9.6e12, 1.2e13, 1.0e13, 1.35e13, 1.15e13, 9.4e12, 1.4e13, 1.2e13,
  1.4e13, 1.1e13, 1.3e13, 1.55e13, 1.2e13, 1.4e13, 1.65e13, 1.3e13, 1.45e13, 1.25e13,
  1.6e13, 1.4e13, 1.65e13, 1.8e13, 1.5e13, 1.7e13, 1.45e13, 1.75e13, 2.0e13, 1.6e13,
  1.85e13, 2.05e13
];
const o3BExtraT = [0, 5, 15, 25, 28, 645, 655, 665, 675, 685, 720, 780, 850, 930, 1010,
  1095, 1105, 1115, 1125, 1135, 1145, 1155, 1165, 1175, 1185, 1195, 1205, 1215, 1225, 1232,
  1330, 1420, 1480, 1560, 1640];
const o3BExtraV = [1.2e12, 3.5e12, 7e12, 2e12, 4.5e12, 3.2e12, 4.5e12, 3.6e12, 5.8e12, 4.2e12,
  4e12, 3e12, 5.5e12, 3.5e12, 6e12, 3.0e12, 2.4e12, 4.2e12, 2.0e12, 3.4e12,
  2.8e12, 5.0e12, 2.3e12, 3.8e12, 2.6e12, 4.4e12, 2.1e12, 3.2e12, 2.7e12, 3.9e12,
  4.5e12, 3e12, 5e12, 4e12, 6.5e12];

// error bars, panel b
const errNoBT = [10, 25, 45, 70, 95, 120, 160, 200, 240, 280, 330, 380, 430,
  500, 520, 545, 565, 590, 610, 625, 700, 760, 830, 900, 970, 1040,
  1100, 1120, 1145, 1165, 1190, 1210, 1225, 1300, 1380, 1460, 1540, 1620, 1700];
const errNoBLo = [5e11, 2e13, 3e13, 8e13, 1e14, 2e14, 3e14, 2e14, 4e14, 2e14, 3e14, 1.5e14, 3e14,
  5e11, 8e12, 5e11, 2e13, 5e11, 1e13, 5e11, 4e14, 6e14, 3e14, 7e14, 5e14, 6e14,
  5e11, 1.5e13, 5e11, 2e13, 5e11, 8e12, 5e11, 3e14, 5e14, 3e14, 4e14, 2e14, 3e14];
const errNoBHi = [1e15, 1.2e15, 1.5e15, 2e15, 2.5e15, 3e15, 3e15, 3e15, 3.5e15, 3e15, 3.5e15, 3e15, 3.5e15,
  8e14, 1.2e15, 6e14, 9e14, 1.1e15, 7e14, 1e15, 3e15, 3.5e15, 3.5e15, 3.5e15, 3e15, 3.5e15,
  1e15, 8e14, 1.2e15, 7e14, 9e14, 1e15, 1.5e15, 3e15, 3e15, 2.5e15, 2.5e15, 2.5e15, 2.5e15];
const errNo2BT = [5, 20, 60, 100, 140, 180, 495, 510, 530, 550, 575, 600, 620,
  1100, 1115, 1135, 1160, 1185, 1205, 1225];
const errNo2BLo = [5e11, 5e11, 2e12, 5e11, 3e12, 1e12, 5e11, 5e11, 5e11, 5e11, 5e11, 5e11, 5e11,
  5e11, 5e11, 5e11, 5e11, 5e11, 5e11, 5e11];
const errNo2BHi = [1e14, 8e13, 4e14, 5e14, 6e14, 7e14, 6e14, 4e14, 5e14, 3e14, 6e14, 4e14, 5e14,
  5e14, 6e14, 3e14, 5e14, 4e14, 6e14, 3e14];
const errO3BT = [5, 20, 280, 330, 380, 430, 470, 520, 560, 600, 640, 700, 800, 900, 1000, 1060,
  1110, 1150, 1190, 1230, 1300, 1400, 1500, 1600, 1680, 1715];
const errO3BLo = [5e11, 5e11, 5e11, 5e11, 5e11, 5e11, 5e11, 1e12, 1.5e12, 2e12, 2e12, 3e12, 4e12, 3e12, 4e12, 5e12,
  5e11, 5e11, 5e11, 5e11, 3e12, 5e12, 4e12, 5e12, 6e12, 7e12];
const errO3BHi = [8e12, 6e12, 4e12, 5e12, 4e12, 5e12, 6e12, 9e12, 1e13, 1.1e13, 1.4e13, 2e13, 2.2e13, 2.5e13, 2.8e13, 3e13,
  9e12, 1e13, 8e12, 1.1e13, 1.8e13, 2.3e13, 2.6e13, 3e13, 3.2e13, 3.3e13];

// ---- panel c ----
const pressT = [0, 30, 60, 100, 150, 200, 225, 250, 275, 300,
  350, 400, 450, 486, 488, 489, 490, 491, 495, 502, 517, 534,
  633, 663, 703, 753, 803, 828, 853, 878, 903,
  953, 1003, 1053, 1089, 1091, 1092,
  1093, 1094, 1098, 1105, 1120, 1137,
  1235, 1270, 1310, 1350, 1390, 1427, 1460, 1502, 1540, 1580,
  1620, 1660, 1700, 1712, 1717, 1719, 1721];
const pressV = [0, 0, 62, 146, 250, 354, 402, 445, 482, 513,
  568, 618, 662, 700, 698, 520, 200, 94, 36, 13, 3, 0,
  0, 62, 146, 250, 354, 402, 445, 482, 513,
  568, 618, 662, 700, 698, 520,
  200, 94, 36, 13, 3, 0,
  0, 68, 145, 222, 300, 371, 428, 492, 542, 587,
  627, 665, 698, 715, 722, 735, 748];

// ============================================
// helpers
// ============================================
const pts = (ts, vs) => ts.map((t, i) => ({ x: t, y: vs[i] }));
const spans = (ts, lo, hi) => ts.map((t, i) => ({ x: t, y: [lo[i], hi[i]] }));

function cloud(data, color, style, rotation, r) {
  return {
    type: 'scatter', data, showLine: false, clip: 0, order: 5,
    pointStyle: style, pointRotation: rotation, pointRadius: r,
    pointBackgroundColor: color, pointBorderWidth: 0
  };
}
function curve(data, color, width, order) {
  return {
    type: 'line', data, borderColor: color, borderWidth: width, pointRadius: 0,
    tension: 0, spanGaps: false, clip: 0, order: order || 3,
    borderJoinStyle: 'round', borderCapStyle: 'round'
  };
}
function errBars(data, color) {
  return {
    type: 'bar', data, backgroundColor: color, borderWidth: 0,
    barThickness: 1, grouped: false, clip: 0, order: 9
  };
}

function line(ctx, x1, y1, x2, y2) {
  ctx.beginPath(); ctx.moveTo(x1, y1); ctx.lineTo(x2, y2); ctx.stroke();
}

function marker(ctx, kind, x, y) {
  ctx.beginPath();
  if (kind === 0) { ctx.moveTo(x - 4.2, y - 3.6); ctx.lineTo(x + 4.2, y - 3.6); ctx.lineTo(x, y + 3.8); }
  else if (kind === 1) { ctx.rect(x - 3.6, y - 3.6, 7.2, 7.2); }
  else { ctx.moveTo(x - 4.2, y + 3.6); ctx.lineTo(x + 4.2, y + 3.6); ctx.lineTo(x, y - 3.8); }
  ctx.closePath(); ctx.fill();
}

function drawLegend(ctx) {
  const colors = [BLUE, RED, GREEN];
  const rows = [204, 233, 263];
  ctx.save();
  ctx.fillStyle = '#fff';
  ctx.fillRect(557, 189, 68, 88);
  legendNames.forEach((name, i) => {
    const cy = rows[i];
    ctx.fillStyle = colors[i];
    marker(ctx, i, 570.5, cy);
    const m = name.match(/^(\D+)(\d*)$/);
    ctx.fillStyle = INK; ctx.textAlign = 'left'; ctx.textBaseline = 'middle';
    ctx.font = '17px ' + FONT;
    ctx.fillText(m[1], 586, cy);
    if (m[2]) {
      const w = ctx.measureText(m[1]).width;
      ctx.font = '11px ' + FONT;
      ctx.fillText(m[2], 586 + w + 0.5, cy + 5);
    }
  });
  ctx.restore();
}

function drawYTitle(ctx, a, t) {
  ctx.save();
  ctx.translate(46, (a.top + a.bottom) / 2);
  ctx.rotate(-Math.PI / 2);
  ctx.fillStyle = INK; ctx.textBaseline = 'middle'; ctx.textAlign = 'left';
  const big = '25px ' + FONT, small = '15px ' + FONT;
  ctx.font = big;
  const w1 = ctx.measureText(t.main).width;
  const w3 = t.tail ? ctx.measureText(t.tail).width : 0;
  ctx.font = small;
  const w2 = t.sup ? ctx.measureText(t.sup).width : 0;
  let px = -(w1 + w2 + w3) / 2;
  ctx.font = big; ctx.fillText(t.main, px, 0); px += w1;
  if (t.sup) {
    ctx.font = small; ctx.fillText(t.sup, px, -9); px += w2;
    ctx.font = big; ctx.fillText(t.tail, px, 0);
  }
  ctx.restore();
}

// frame, inward ticks, dashed step lines, log labels, titles, legend
const decor = {
  id: 'decor',
  afterDatasetsDraw(chart, args, o) {
    const { ctx, chartArea: a } = chart;
    const x = chart.scales.x, y = chart.scales.y;
    ctx.save();

    ctx.strokeStyle = '#1a1a1a'; ctx.lineWidth = 1.3; ctx.setLineDash([5, 3]);
    stepLines.forEach(t => {
      const px = Math.round(x.getPixelForValue(t)) + 0.5;
      line(ctx, px, a.top, px, a.bottom);
    });
    ctx.setLineDash([]);

    if (o.legend) drawLegend(ctx);

    ctx.strokeStyle = '#2a2a2a'; ctx.lineWidth = 1.4;
    ctx.strokeRect(a.left, a.top, a.right - a.left, a.bottom - a.top);

    ctx.lineWidth = 1.2;
    const xt = (v, len) => {
      const px = Math.round(x.getPixelForValue(v)) + 0.5;
      line(ctx, px, a.bottom, px, a.bottom - len);
      line(ctx, px, a.top, px, a.top + len);
    };
    xTickVals.forEach(v => xt(v, 7));
    xMinorVals.forEach(v => xt(v, 4));
    const yt = (v, len) => {
      const py = Math.round(y.getPixelForValue(v)) + 0.5;
      line(ctx, a.left, py, a.left + len, py);
      line(ctx, a.right, py, a.right - len, py);
    };

    if (o.log) {
      logTickVals.forEach(v => yt(v, 7));
      logTickVals.forEach(d => {
        for (let m = 2; m <= 9; m++) if (m * d < y.max) yt(m * d, 4);
      });
      ctx.fillStyle = INK; ctx.textBaseline = 'alphabetic';
      logTickVals.forEach(v => {
        const py = y.getPixelForValue(v);
        const ex = String(Math.round(Math.log10(v)));
        ctx.font = '14px ' + FONT;
        const we = ctx.measureText(ex).width;
        const ex0 = a.left - 2 - we;
        ctx.textAlign = 'left';
        ctx.fillText(ex, ex0, py - 2);
        ctx.font = '21px ' + FONT;
        ctx.textAlign = 'right';
        ctx.fillText('10', ex0 - 2, py + 9);
      });
    } else {
      pressureTickVals.forEach(v => yt(v, 7));
    }

    drawYTitle(ctx, a, o.title);

    ctx.fillStyle = INK; ctx.textAlign = 'left'; ctx.textBaseline = 'alphabetic';
    ctx.font = '36px ' + FONT;
    ctx.fillText(o.letter, 26, o.letterY);
    ctx.restore();
  }
};

function timeAxis(height, pad) {
  return {
    type: 'linear', min: -100, max: 1800, offset: false,
    afterBuildTicks: s => { s.ticks = xTickVals.map(v => ({ value: v })); },
    afterFit: s => { s.height = height; },
    grid: { display: false, drawTicks: false, offset: false },
    border: { display: false },
    ticks: { autoSkip: false, maxRotation: 0, padding: pad, color: INK,
      font: { family: FONT, size: 21, lineHeight: 1 }, callback: v => String(v) },
    title: { display: true, text: 'Time (s)', color: INK, padding: 0,
      font: { family: FONT, size: 25, lineHeight: 1 } }
  };
}

function densityChart(id, letter, letterY, top, xHeight, datasets) {
  return new Chart(document.getElementById(id), {
    type: 'scatter',
    data: { datasets },
    options: {
      responsive: false, animation: false, devicePixelRatio: 1, events: [],
      layout: { padding: { top, right: 26, bottom: 0, left: 0 } },
      plugins: {
        legend: { display: false }, tooltip: { enabled: false },
        decor: { letter, letterY, log: true, legend: true,
          title: { main: 'Number density (cm', sup: '-3', tail: ')' } }
      },
      scales: {
        x: timeAxis(xHeight, 4.5),
        y: {
          type: 'logarithmic', min: 1e12, max: 2e16,
          ticks: { display: false },
          grid: { display: false, drawTicks: false },
          border: { display: false },
          afterFit: s => { s.width = 119; }
        }
      }
    },
    plugins: [decor]
  });
}

Chart.defaults.font.family = FONT;
Chart.defaults.color = INK;

const FAINT_BLUE = 'rgba(35,114,224,0.16)';
const FAINT_RED = 'rgba(240,60,60,0.14)';
const FAINT_GREEN = 'rgba(102,180,20,0.16)';

// ---- panel a ----
densityChart('chart-a', 'a', 42, 46, 60, [
  errBars(spans(errNoAT, errNoALo, errNoAHi), FAINT_BLUE),
  errBars(spans(errNo2AT, errNo2ALo, errNo2AHi), FAINT_RED),
  errBars(spans(errO3AT, errO3ALo, errO3AHi), FAINT_GREEN),
  cloud(pts(timeGrid, noA), BLUE, 'triangle', 180, 4),
  cloud(pts(midGrid, noAMid), BLUE, 'triangle', 180, 4),
  cloud(pts(noAExtraT, noAExtraV), BLUE, 'triangle', 180, 4),
  curve(pts(noARiseT, noARiseV), BLUE, 2.5),
  cloud(pts(timeGrid, o3A), GREEN, 'triangle', 0, 3.7),
  cloud(pts(midGrid, o3AMid), GREEN, 'triangle', 0, 3.7),
  curve(pts(no2ARiseT, no2ARiseV), RED, 3, 2),
  curve(pts(no2ALineT, no2ALineV), RED, 6, 2),
  cloud(pts(no2AExtraT, no2AExtraV), RED, 'rect', 0, 3.4),
  curve(pts(o3ALineT, o3ALineV), GREEN, 3.5, 1)
]);

// ---- panel b ----
densityChart('chart-b', 'b', 37, 43, 65, [
  errBars(spans(errNoBT, errNoBLo, errNoBHi), FAINT_BLUE),
  errBars(spans(errNo2BT, errNo2BLo, errNo2BHi), FAINT_RED),
  errBars(spans(errO3BT, errO3BLo, errO3BHi), FAINT_GREEN),
  cloud(pts(timeGrid, noB), BLUE, 'triangle', 180, 4),
  cloud(pts(midGrid, noBMid), BLUE, 'triangle', 180, 4),
  cloud(pts(noBExtraT, noBExtraV), BLUE, 'triangle', 180, 4),
  cloud(pts(no2BCloudT, no2BCloudV), RED, 'rect', 0, 3.4),
  curve(pts(no2BDropT, no2BDropV), RED, 2, 2),
  curve(pts(no2BLineT, no2BLineV), RED, 5.5, 2),
  cloud(pts(timeGrid, o3B), GREEN, 'triangle', 0, 3.7),
  cloud(pts(midGrid, o3BMid), GREEN, 'triangle', 0, 3.7),
  cloud(pts(o3BExtraT, o3BExtraV), GREEN, 'triangle', 0, 3.7),
  curve(pts(o3BLineT, o3BLineV), GREEN, 4, 1)
]);

// ---- panel c ----
new Chart(document.getElementById('chart-c'), {
  type: 'scatter',
  data: { datasets: [ curve(pts(pressT, pressV), '#111', 1.2) ] },
  options: {
    responsive: false, animation: false, devicePixelRatio: 1, events: [],
    layout: { padding: { top: 41, right: 26, bottom: 14, left: 0 } },
    plugins: {
      legend: { display: false }, tooltip: { enabled: false },
      decor: { letter: 'c', letterY: 32, log: false, legend: false,
        title: { main: 'Pressure (Torr)' } }
    },
    scales: {
      x: timeAxis(64, 6),
      y: {
        type: 'linear', min: -50, max: 750,
        afterBuildTicks: s => { s.ticks = pressureTickVals.map(v => ({ value: v })); },
        afterFit: s => { s.width = 119; },
        grid: { display: false, drawTicks: false },
        border: { display: false },
        ticks: { padding: 3, color: INK, font: { family: FONT, size: 23, lineHeight: 1 },
          callback: v => String(v) }
      }
    }
  },
  plugins: [decor]
});
</script>
</body>
</html>
